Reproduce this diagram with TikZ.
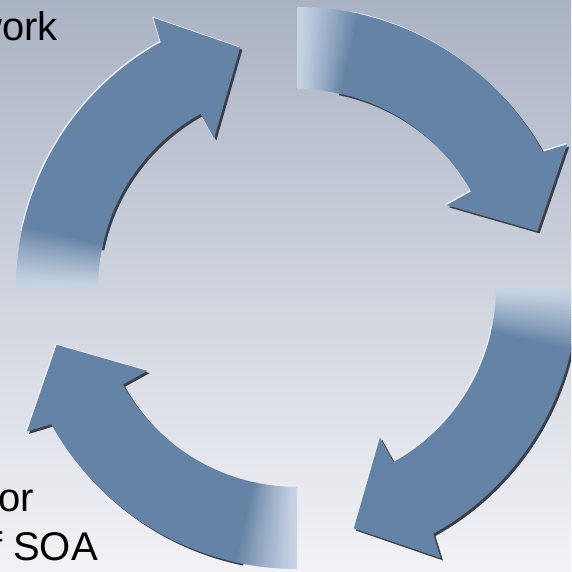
\documentclass[tikz,border=0pt]{standalone}
\usepackage{fontspec}
\setmainfont{Liberation Sans}
\definecolor{bgtop}{RGB}{170,179,196}
\definecolor{bgbot}{RGB}{242,243,246}
\definecolor{arrowc}{RGB}{101,131,165}
\definecolor{fadec}{RGB}{200,212,228}
\definecolor{shadowc}{RGB}{58,62,72}
\definecolor{hilite}{RGB}{232,238,245}
\newcommand\ArrowBody[1]{({#1-11.5}:281) arc[start angle={#1-11.5}, end angle={#1-61}, radius=281] -- ({#1-62}:306) -- ({#1-76.7}:247) -- ({#1-61}:171) -- ({#1-61}:199) arc[start angle={#1-61}, end angle={#1-11.5}, radius=199] -- cycle}
\tikzset{
  bigtext/.style={font=\fontsize{40}{48}\selectfont, text=black, inner sep=0pt},
  arrowfill/.style={fill=arrowc},
  shadowfill/.style={fill=shadowc, shift={(2.2,-2.2)}},
  hilitefill/.style={fill=hilite, shift={(-1.2,1.2)}}
}
\begin{document}
\begin{tikzpicture}[x=1pt,y=1pt]
\useasboundingbox (0,0) rectangle (571,572);
\clip (0,0) rectangle (571,572);
\shade[top color=bgtop, bottom color=bgbot] (0,0) rectangle (571,572);
\begin{scope}[shift={(297,284)}]
\foreach \T in {180,90,0,-90}{
  \fill[hilitefill] \ArrowBody{\T};
  \fill[shadowfill] \ArrowBody{\T};
  \fill[arrowfill] \ArrowBody{\T};
  \foreach \i in {0,...,25}{
    \pgfmathsetmacro\aa{\T-\i*0.5}
    \pgfmathsetmacro\bb{\T-\i*0.5-0.7}
    \pgfmathtruncatemacro\pct{100*(\i/25)^1.2}
    \fill[arrowc!\pct!fadec] (\aa:281) arc[start angle=\aa,end angle=\bb,radius=281] -- (\bb:199) arc[start angle=\bb,end angle=\aa,radius=199] -- cycle;
  }
}
\end{scope}
\node[bigtext, anchor=base east] (t1) at (58,531) {work};
\node[bigtext, anchor=base east] (t2) at (34,60) {or};
\node[bigtext, anchor=base east] (t3) at (98,12) {f SOA};
\end{tikzpicture}
\end{document}
